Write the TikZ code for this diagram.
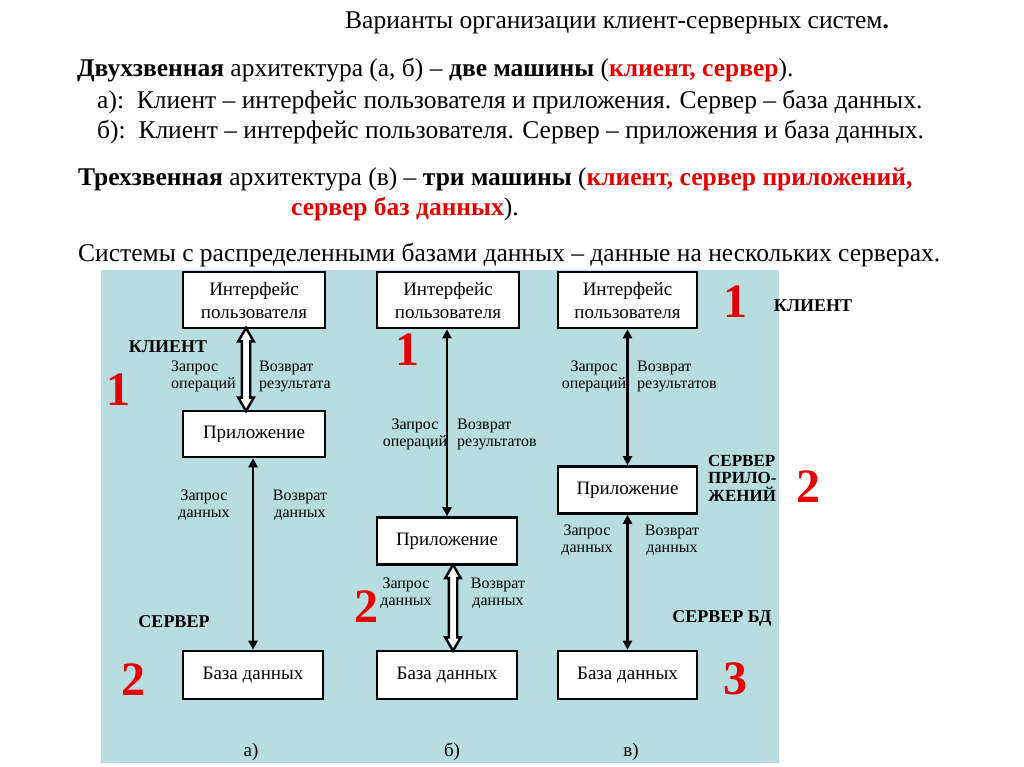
\documentclass[tikz,border=0pt]{standalone}
\usepackage{fontspec}
\setmainfont{Liberation Serif}
\usepackage{tikz}
\usetikzlibrary{shapes.arrows,arrows.meta,calc,positioning}
\definecolor{panelblue}{RGB}{183,221,225}
\definecolor{slidered}{RGB}{230,0,0}

\begin{document}
\begin{tikzpicture}[x=1pt, y=-1pt,
    tier/.style={draw, fill=white, line width=2.6pt, font=\fontsize{19}{23}\selectfont, align=center, inner sep=0pt},
    lbl/.style={font=\fontsize{16}{17}\selectfont, inner sep=0pt},
    role/.style={font=\fontsize{18}{18}\selectfont\bfseries, inner sep=0pt},
    tiernum/.style={font=\fontsize{48}{48}\selectfont\bfseries, text=slidered, inner sep=0pt},
    headline/.style={font=\fontsize{25.5}{30}\selectfont, anchor=base west, inner sep=0pt},
    link/.style={line width=2.4pt, {Triangle[length=9pt,width=9pt]}-{Triangle[length=9pt,width=9pt]}},
    hollow/.style={double arrow, draw, fill=white, line width=2.4pt, rotate=90, inner sep=3pt,
        double arrow head extend=3.5pt, double arrow tip angle=60, minimum height=#1},
]
        \useasboundingbox (0,0) rectangle (1024,767);

        % Heading text
        \node[headline] (title) at (345,29) {Варианты организации клиент-серверных систем\textbf{.}};
        \node[headline] (twotier) at (77,77) {\textbf{Двухзвенная} архитектура (а, б) – \textbf{две машины} (\textbf{\textcolor{slidered}{клиент, сервер}}).};
        \node[headline] (varA) at (97,109) {а):\hspace{.5em}Клиент – интерфейс пользователя и приложения. Сервер – база данных.};
        \node[headline] (varB) at (97,139) {б):\hspace{.5em}Клиент – интерфейс пользователя. Сервер – приложения и база данных.};
        \node[headline] (threetier) at (78,186) {\textbf{Трехзвенная} архитектура (в) – \textbf{три машины} (\textbf{\textcolor{slidered}{клиент, сервер приложений,}}};
        \node[headline] (threetier2) at (291,215) {\textbf{\textcolor{slidered}{сервер баз данных}}).};
        \node[headline] (distrib) at (78,261) {Системы с распределенными базами данных – данные на нескольких серверах.};

        % Blue panel
        \fill[panelblue] (101,270) rectangle (779,763);

        % Column a: two tiers
        \node[tier, minimum width=142pt, minimum height=56pt] (ifaceA) at (254,300) {Интерфейс\\пользователя};
        \node[tier, minimum width=142pt, minimum height=46pt] (appA) at (254,434) {Приложение};
        \node[tier, minimum width=140pt, minimum height=48pt] (dbA) at (253,675) {База данных};
        \node[hollow=83pt] (dblA) at ($(ifaceA.south)!.5!(appA.north)+(-8,0)$) {};
        \draw[link] ([xshift=-1pt]appA.south) -- ([xshift=-1pt]appA.south |- dbA.north);
        \node[lbl, align=left, anchor=west] (reqopA) at (171,376) {Запрос\\операций};
        \node[lbl, align=left, anchor=west] (retopA) at (259,376) {Возврат\\результата};
        \node[lbl, align=center] (reqdbA) at (204,505) {Запрос\\данных};
        \node[lbl, align=center] (retdbA) at (300,505) {Возврат\\данных};
        \node[role] (clientA) at (168,347) {КЛИЕНТ};
        \node[role] (serverA) at (174,622) {СЕРВЕР};
        \node[tiernum] (oneA) at (118,390) {1};
        \node[tiernum] (twoA) at (133,680) {2};
        \node[font=\fontsize{19}{19}\selectfont] (capA) at (251,752) {а)};

        % Column b: two tiers
        \node[tier, minimum width=142pt, minimum height=56pt] (ifaceB) at (448,300) {Интерфейс\\пользователя};
        \node[tier, minimum width=140pt, minimum height=47pt] (appB) at (447,541) {Приложение};
        \node[tier, minimum width=140pt, minimum height=48pt] (dbB) at (447,675) {База данных};
        \draw[link] ([xshift=-1pt]ifaceB.south) -- ([xshift=-1pt]ifaceB.south |- appB.north);
        \node[hollow=86pt] (dblB) at ($(appB.south)!.5!(dbB.north)+(6,0)$) {};
        \node[lbl, align=center] (reqopB) at (415,434) {Запрос\\операций};
        \node[lbl, align=left, anchor=west] (retopB) at (457,434) {Возврат\\результатов};
        \node[lbl, align=center] (reqdbB) at (406,593) {Запрос\\данных};
        \node[lbl, align=center] (retdbB) at (498,593) {Возврат\\данных};
        \node[tiernum] (oneB) at (407,350) {1};
        \node[tiernum] (twoB) at (366,607) {2};
        \node[font=\fontsize{19}{19}\selectfont] (capB) at (452,752) {б)};

        % Column c: three tiers
        \node[tier, minimum width=139pt, minimum height=56pt] (ifaceC) at (627.5,300) {Интерфейс\\пользователя};
        \node[tier, minimum width=139pt, minimum height=47pt] (appC) at (627.5,490) {Приложение};
        \node[tier, minimum width=139pt, minimum height=48pt] (dbC) at (627.5,675) {База данных};
        \draw[link] (ifaceC.south) -- (appC.north);
        \draw[link] (appC.south) -- (dbC.north);
        \node[lbl, align=center] (reqopC) at (594,376) {Запрос\\операций};
        \node[lbl, align=left, anchor=west] (retopC) at (637,376) {Возврат\\результатов};
        \node[lbl, align=center] (reqdbC) at (587,540) {Запрос\\данных};
        \node[lbl, align=center] (retdbC) at (672,540) {Возврат\\данных};
        \node[role] (clientC) at (813,306) {КЛИЕНТ};
        \node[role, align=left, anchor=west, font=\fontsize{17}{17.5}\selectfont\bfseries] (appsrvC) at (708,478) {СЕРВЕР\\ПРИЛО-\\ЖЕНИЙ};
        \node[role] (dbsrvC) at (722,618) {СЕРВЕР БД};
        \node[tiernum] (oneC) at (735,302) {1};
        \node[tiernum] (twoC) at (808,487) {2};
        \node[tiernum] (threeC) at (735,679) {3};
        \node[font=\fontsize{19}{19}\selectfont] (capC) at (631,752) {в)};
    \end{tikzpicture}
\end{document}
